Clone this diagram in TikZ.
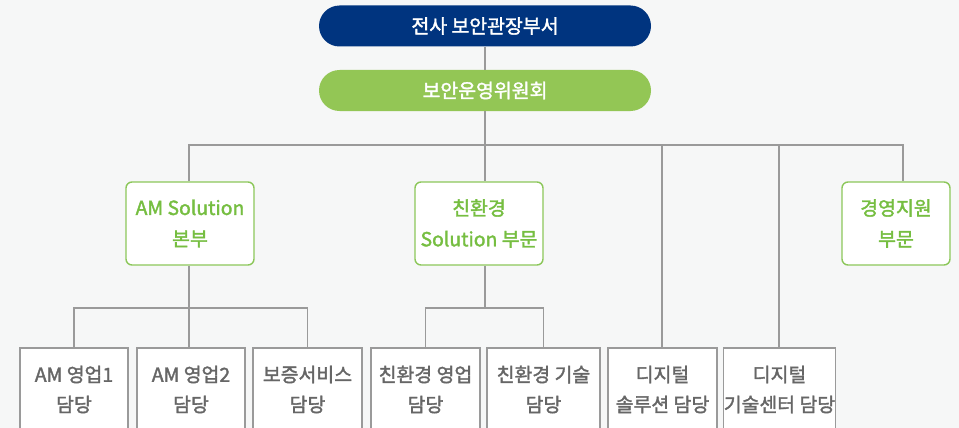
\documentclass[tikz,border=0pt]{standalone}
\usepackage{fontspec}
\setmainfont{Noto Sans CJK KR}
\newfontfamily\medfont[FakeBold=1.8]{Noto Sans CJK KR}
\definecolor{bgc}{HTML}{F6F7F7}
\definecolor{navy}{HTML}{00347F}
\definecolor{pillgreen}{HTML}{93C655}
\definecolor{txtgreen}{HTML}{76BE41}
\definecolor{bordgreen}{HTML}{8CC75A}
\definecolor{txtgray}{HTML}{666666}
\definecolor{bordgray}{HTML}{9A9A9A}
\definecolor{linegray}{HTML}{9A9A9A}
\begin{document}
\begin{tikzpicture}[x=1pt,y=-1pt,
  pill/.style={rounded corners=20.5pt,minimum width=332pt,minimum height=41pt,inner sep=0pt,font=\medfont\fontsize{19.4}{22}\selectfont},
  midbox/.style={draw=bordgreen,line width=1.4pt,fill=white,rounded corners=6pt,minimum height=83pt,inner sep=0pt,align=center,text=txtgreen,font=\medfont\fontsize{19.4}{31}\selectfont},
  botbox/.style={draw=bordgray,line width=1.2pt,fill=white,minimum height=83pt,inner sep=0pt,align=center,text=txtgray,font=\medfont\fontsize{19.4}{30}\selectfont},
  conn/.style={draw=linegray,line width=1.2pt}]
\fill[bgc] (0,0) rectangle (959,428);
\useasboundingbox (0,0) rectangle (959,428);
\begin{scope}
\clip (0,0) rectangle (959,428);
\coordinate (jc) at (485,145);
\coordinate (jl) at (189,145);
\coordinate (jr) at (903,145);
\coordinate (j6) at (662,145);
\coordinate (j7) at (779,145);
\coordinate (ja) at (189,308);
\coordinate (je) at (485,308);
\node[pill,fill=navy,text=white] (top) at (485,26) {전사 보안관장부서};
\node[pill,fill=pillgreen,text=white] (comm) at (485,90.5) {보안운영위원회};
\node[midbox,minimum width=128pt] (am) at (190,223.5) {AM Solution\\본부};
\node[midbox,minimum width=128pt] (eco) at (479,223.5) {친환경\\Solution 부문};
\node[midbox,minimum width=108pt] (mgmt) at (896,223.5) {경영지원\\부문};
\node[botbox,minimum width=108pt] (b1) at (74,389.5) {AM 영업1\\담당};
\node[botbox,minimum width=108pt] (b2) at (191,389.5) {AM 영업2\\담당};
\node[botbox,minimum width=109pt] (b3) at (307.5,389.5) {보증서비스\\담당};
\node[botbox,minimum width=109pt] (b4) at (425.5,389.5) {친환경 영업\\담당};
\node[botbox,minimum width=113pt] (b5) at (543.5,389.5) {친환경 기술\\담당};
\node[botbox,minimum width=109pt] (b6) at (662.5,389.5) {디지털\\솔루션 담당};
\node[botbox,minimum width=109pt] (b7) at (779.5,389.5) {디지털\\기술센터 담당};
\end{scope}
\draw[conn] (top.south) -- (comm.north);
\draw[conn] (comm.south) -- (jc);
\draw[conn] (jl |- am.north) -- (jl) -- (jr) -- (jr |- mgmt.north);
\draw[conn] (jc) -- (jc |- eco.north);
\draw[conn] (j6) -- (j6 |- b6.north);
\draw[conn] (j7) -- (j7 |- b7.north);
\draw[conn] (ja |- am.south) -- (ja);
\draw[conn] (b1.north) |- (ja) -| (b3.north);
\draw[conn] (ja) -- (ja |- b2.north);
\draw[conn] (je |- eco.south) -- (je);
\draw[conn] (b4.north) |- (je) -| (b5.north);
\end{tikzpicture}
\end{document}
